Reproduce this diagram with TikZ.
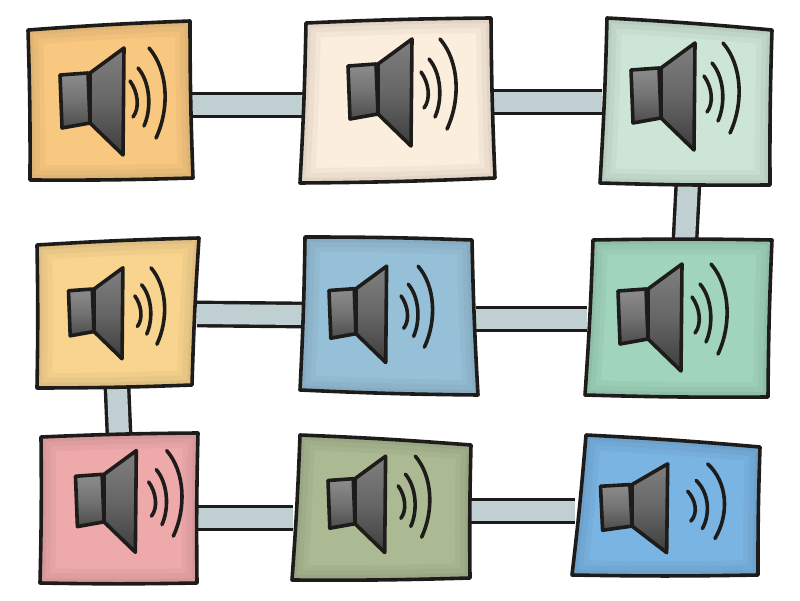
\documentclass[tikz,border=0pt]{standalone}
\usepackage{xcolor}
\definecolor{inkblack}{HTML}{1E1C1A}
\definecolor{linkgray}{HTML}{C0D0D2}
\definecolor{boxamber}{HTML}{F9C880}
\definecolor{boxcream}{HTML}{FCEEDD}
\definecolor{boxmint}{HTML}{CDE5D7}
\definecolor{boxhoney}{HTML}{F9D48F}
\definecolor{boxsky}{HTML}{96C0D8}
\definecolor{boxsea}{HTML}{A0D4BC}
\definecolor{boxrose}{HTML}{EEA9AB}
\definecolor{boxolive}{HTML}{ABBA93}
\definecolor{boxblue}{HTML}{7AB4E2}
\tikzset{
  slot/.style={rectangle,inner sep=0pt,outer sep=0pt},
  ink/.style={draw=inkblack,line width=3.6pt,line join=round,line cap=round},
  linkband/.style={draw=inkblack,line width=3.4pt,double=linkgray,double distance=20pt},
  pics/speaker/.default=0,
  pics/speaker/.style={code={
    \draw[ink,top color=black!45,bottom color=black!70,middle color=black!55]
      (-30,-25) -- (-2,-27) -- (0,23) -- (-28,28) -- cycle;
    \draw[ink,top color=black!50,bottom color=black!76,middle color=black!60]
      (0,-27) -- (34,-52) -- (33,55) -- (0,23) -- cycle;
    \begin{scope}[shift={(#1,0)}]
      \draw[ink] (40,-19) .. controls (48,-8) and (50,8) .. (43,17);
      \draw[ink] (48,-32) .. controls (60,-18) and (62,8) .. (54,26);
      \draw[ink] (59,-52) .. controls (78,-30) and (80,8) .. (66,38);
    \end{scope}
  }}
}
\newcommand{\spkpath}[4]{#1 to[bend left=1] #2 to[bend right=1] #3 to[bend left=1] #4 to[bend right=1] cycle}
\newcommand{\spkbox}[5]{
  \begin{scope}
    \clip \spkpath{#2}{#3}{#4}{#5};
    \fill[#1] \spkpath{#2}{#3}{#4}{#5};
    \draw[#1!70!black,opacity=.10,line width=30pt] \spkpath{#2}{#3}{#4}{#5};
    \draw[#1!70!black,opacity=.12,line width=20pt] \spkpath{#2}{#3}{#4}{#5};
    \draw[#1!70!black,opacity=.15,line width=10pt] \spkpath{#2}{#3}{#4}{#5};
  \end{scope}
  \draw[ink] \spkpath{#2}{#3}{#4}{#5};
}

\begin{document}
\begin{tikzpicture}[x=1pt,y=-1pt]
  \useasboundingbox (0,0) rectangle (800,601);
  % slots
  \node[slot,minimum width=162pt,minimum height=156pt] (spkA) at (110,101) {};
  \node[slot,minimum width=188pt,minimum height=162pt] (spkB) at (398,101) {};
  \node[slot,minimum width=168pt,minimum height=160pt] (spkC) at (686,102) {};
  \node[slot,minimum width=160pt,minimum height=148pt] (spkD) at (117,313) {};
  \node[slot,minimum width=174pt,minimum height=154pt] (spkE) at (389,316) {};
  \node[slot,minimum width=182pt,minimum height=156pt] (spkF) at (678,318) {};
  \node[slot,minimum width=158pt,minimum height=149pt] (spkG) at (119,509) {};
  \node[slot,minimum width=176pt,minimum height=140pt] (spkH) at (381,509) {};
  \node[slot,minimum width=182pt,minimum height=134pt] (spkI) at (666,508) {};
  % links
  \draw[linkband] ([yshift=-4pt]spkA.east) -- ([yshift=-4pt]spkB.west);
  \draw[linkband] ([yshift=-1pt]spkB.east) -- ([yshift=0pt]spkC.west);
  \draw[linkband] ([xshift=2pt]spkC.south) -- ([xshift=7pt]spkF.north);
  \draw[linkband] ([yshift=-1pt]spkD.east) -- ([yshift=1pt]spkE.west);
  \draw[linkband] ([yshift=-3pt]spkE.east) -- ([yshift=-1pt]spkF.west);
  \draw[linkband] (spkD.south) -- (spkG.north);
  \draw[linkband] ([yshift=-9pt]spkG.east) -- ([yshift=-9pt]spkH.west);
  \draw[linkband] ([yshift=-2pt]spkH.east) -- ([yshift=-3pt]spkI.west);
  % boxes
  \spkbox{boxamber}{(28,30)}{(190,21)}{(193,178)}{(30,180)}
  \spkbox{boxcream}{(306,23)}{(491,18)}{(495,178)}{(300,183)}
  \spkbox{boxmint}{(607,18)}{(772,30)}{(770,185)}{(600,183)}
  \spkbox{boxhoney}{(37,245)}{(199,238)}{(192,385)}{(37,388)}
  \spkbox{boxsky}{(305,237)}{(472,240)}{(478,395)}{(300,390)}
  \spkbox{boxsea}{(593,240)}{(772,240)}{(768,397)}{(585,395)}
  \spkbox{boxrose}{(41,437)}{(198,433)}{(197,583)}{(40,583)}
  \spkbox{boxolive}{(300,435)}{(471,445)}{(470,578)}{(292,580)}
  \spkbox{boxblue}{(586,435)}{(760,447)}{(758,575)}{(572,575)}
  % speakers
  \pic at (90,100) {speaker};
  \pic at (378,91) {speaker=3};
  \pic at (661,95) {speaker=3};
  \pic[scale=.85] at (94,312) {speaker=8};
  \pic[scale=.9] at (356,313) {speaker=10};
  \pic at (648,316) {speaker=4};
  \pic[scale=.95] at (104,500) {speaker=7};
  \pic[scale=.9] at (355,503) {speaker=8};
  \pic[xscale=1.05,yscale=.83] at (632,507) {speaker=13};
\end{tikzpicture}
\end{document}
